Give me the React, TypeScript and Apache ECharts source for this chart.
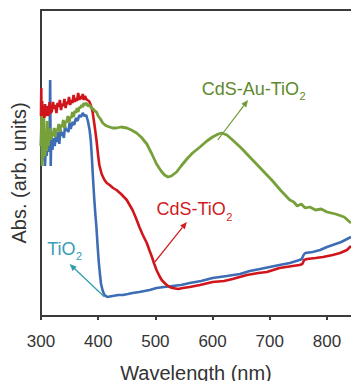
import React, { useEffect, useRef } from "react";
import * as echarts from "echarts";

const FONT = '"Liberation Sans", Arial, Helvetica, sans-serif';

const xTicks = [300, 400, 500, 600, 700, 800];
const xMin = 300;
const xMax = 842;
const yMin = 0;
const yMax = 306;

// [wavelength (nm), absorbance (arb. units)]
const tio2: [number, number][] = [
  [300, 170], [301, 198], [302, 155], [303, 188], [304, 160], [306, 184], [307, 150], [309, 176], [310, 160],
  [312, 180], [313, 164], [315, 176], [316, 236], [317, 150], [318, 182], [320, 166], [322, 178], [324, 170],
  [326, 180], [328, 174], [330, 184], [332, 172], [334, 186], [336, 180], [338, 184], [340, 178], [342, 190],
  [344, 185], [346, 187], [348, 184], [350, 193], [352, 187], [355, 194], [358, 191], [361, 198], [364, 195],
  [367, 201], [370, 199], [373, 203], [376, 200], [379, 201], [382, 195], [385, 186], [387, 176], [389, 158],
  [391, 137], [393, 118], [395, 102], [397, 88], [399, 70], [401, 54], [403, 42], [405, 32], [408, 25],
  [411, 21], [416, 19], [425, 20], [435, 21], [443, 21], [452, 22], [460, 23], [472, 24], [481, 25],
  [490, 26], [502, 28], [515, 29], [530, 30], [545, 31], [560, 33], [580, 35], [600, 38], [625, 40],
  [648, 42], [665, 45], [683, 47], [700, 49], [717, 51], [735, 53], [752, 56], [756, 57], [759, 61],
  [762, 63], [775, 64], [788, 66], [800, 69], [810, 71], [825, 74], [842, 79],
];

const cdsTio2: [number, number][] = [
  [300, 200], [300.5, 228], [301, 185], [302, 215], [303, 192], [304, 210], [306, 198], [307, 212], [309, 200],
  [311, 210], [313, 200], [315, 214], [317, 203], [319, 205], [321, 214], [323, 207], [325, 211], [327, 203],
  [329, 213], [331, 209], [333, 216], [335, 206], [337, 212], [339, 210], [341, 217], [343, 208], [345, 214],
  [347, 212], [349, 219], [351, 211], [353, 216], [355, 213], [357, 221], [359, 214], [361, 218], [363, 215],
  [365, 223], [367, 216], [369, 220], [371, 217], [373, 222], [375, 216], [377, 220], [379, 217], [381, 216],
  [384, 215], [387, 211], [390, 205], [392, 197], [394, 189], [397, 176], [400, 160], [402, 151], [406, 142],
  [411, 136], [415, 133], [420, 131], [426, 128], [432, 126], [440, 122], [450, 116], [455, 111], [460, 106],
  [466, 98], [472, 89], [478, 81], [485, 73], [490, 65], [494, 59], [498, 52], [502, 46], [507, 40],
  [511, 36], [516, 33], [520, 31], [525, 29], [530, 28], [540, 27], [548, 28], [560, 29], [578, 31],
  [600, 34], [620, 35], [635, 37], [660, 41], [680, 43], [695, 44], [717, 48], [740, 50], [752, 51],
  [757, 52], [760, 56], [765, 57], [780, 58], [793, 59], [810, 61], [823, 63], [835, 66], [842, 70],
];

const cdsAuTio2: [number, number][] = [
  [300, 170], [301, 200], [302, 150], [303, 190], [304, 158], [305, 198], [307, 160], [308, 185], [310, 165],
  [311, 195], [313, 170], [315, 188], [317, 176], [319, 184], [321, 180], [323, 188], [325, 179], [327, 187],
  [329, 185], [331, 192], [333, 184], [335, 191], [337, 189], [339, 196], [341, 188], [343, 195], [345, 194],
  [347, 200], [349, 193], [351, 199], [353, 198], [355, 204], [357, 199], [359, 205], [361, 203], [363, 208],
  [365, 204], [367, 209], [369, 208], [371, 211], [373, 209], [375, 213], [377, 211], [379, 213], [382, 210],
  [385, 211], [388, 208], [391, 207], [394, 205], [397, 204], [400, 200], [404, 197], [408, 193], [412, 191],
  [415, 190], [420, 189], [425, 188], [432, 188], [440, 189], [450, 188], [458, 186], [467, 183], [475, 179],
  [485, 172], [493, 163], [502, 152], [510, 145], [516, 141], [522, 139], [528, 140], [537, 144], [545, 150],
  [555, 157], [565, 163], [578, 169], [590, 175], [600, 179], [610, 182], [616, 183], [625, 181], [635, 176],
  [650, 168], [665, 159], [680, 150], [695, 141], [705, 135], [720, 125], [735, 116], [742, 114], [748, 110],
  [755, 112], [762, 108], [770, 109], [780, 106], [790, 107], [800, 104], [815, 102], [830, 99], [842, 93],
];

// Annotation labels: [wavelength at text left, value at text middle]
const labelMain = ["CdS-Au-TiO", "CdS-TiO", "TiO"];
const labelSub = ["2", "2", "2"];
const labelAt: [number, number][] = [[581, 227.5], [502, 107], [311, 67.5]];
const labelColor = ["#5e8a2c", "#d01c22", "#3a9cb6"];

// Arrows: from point on curve to the label, in data coordinates
const arrowFrom: [number, number][] = [[609, 176], [499, 54], [411, 19]];
const arrowTo: [number, number][] = [[662, 216], [555, 94], [350, 52]];
const arrowColor = ["#6f9a35", "#d01c22", "#2e9aaa"];

const AXIS_COLOR = "#3a3a3a";

function measure(text: string, size: number): number {
  const c = document.createElement("canvas").getContext("2d");
  if (!c) return text.length * size * 0.55;
  c.font = `${size}px ${FONT}`;
  return c.measureText(text).width;
}

export default function App() {
  const ref = useRef<HTMLDivElement>(null);
  useEffect(() => {
    if (!ref.current) return;
    document.body.style.margin = "0";
    const chart = echarts.init(ref.current, undefined, { renderer: "svg" });
    const option: any = {
      animation: false,
      grid: { left: 41, right: 0, top: 10, bottom: 65, containLabel: false, outerBoundsMode: "none" },
      xAxis: [
        {
          type: "value",
          min: xMin,
          max: xMax,
          interval: 100,
          position: "bottom",
          axisLine: { show: true, lineStyle: { color: AXIS_COLOR, width: 2 } },
          axisTick: {
            show: true,
            inside: false,
            length: 4,
            customValues: xTicks,
            lineStyle: { color: AXIS_COLOR, width: 2 },
          },
          axisLabel: {
            show: true,
            customValues: xTicks,
            fontSize: 17,
            fontFamily: FONT,
            color: "#333",
            margin: 17,
          },
          splitLine: { show: false },
          name: "Wavelength (nm)",
          nameLocation: "middle",
          nameGap: 47,
          nameTextStyle: { fontSize: 20, fontFamily: FONT, color: "#333" },
        },
        {
          type: "value",
          min: xMin,
          max: xMax,
          position: "top",
          axisLine: { show: true, lineStyle: { color: AXIS_COLOR, width: 2 } },
          axisTick: { show: false },
          axisLabel: { show: false },
          splitLine: { show: false },
        },
      ],
      yAxis: {
        type: "value",
        min: yMin,
        max: yMax,
        axisLine: { show: true, lineStyle: { color: AXIS_COLOR, width: 2 } },
        axisTick: { show: false },
        axisLabel: { show: false },
        splitLine: { show: false },
      },
      series: [
        {
          name: "TiO2",
          type: "line",
          data: tio2,
          showSymbol: false,
          lineStyle: { color: "#3d6db5", width: 2.6 },
          itemStyle: { color: "#3d6db5" },
          z: 2,
        },
        {
          name: "CdS-TiO2",
          type: "line",
          data: cdsTio2,
          showSymbol: false,
          lineStyle: { color: "#d0161c", width: 2.6 },
          itemStyle: { color: "#d0161c" },
          z: 3,
        },
        {
          name: "CdS-Au-TiO2",
          type: "line",
          data: cdsAuTio2,
          showSymbol: false,
          lineStyle: { color: "#77a03a", width: 2.8 },
          itemStyle: { color: "#77a03a" },
          z: 4,
        },
      ],
    };
    chart.setOption(option);

    const toPx = (p: [number, number]) => chart.convertToPixel({ gridIndex: 0 }, p) as number[];
    const graphics: any[] = [
      {
        type: "text",
        x: 19,
        y: 173,
        rotation: Math.PI / 2,
        style: {
          text: "Abs. (arb. units)",
          fontSize: 20,
          fontFamily: FONT,
          fill: "#333",
          textAlign: "center",
          textVerticalAlign: "middle",
        },
      },
    ];
    for (let i = 0; i < labelMain.length; i++) {
      const p = toPx(labelAt[i]);
      const w = measure(labelMain[i], 18);
      graphics.push({
        type: "text",
        x: p[0],
        y: p[1],
        z: 10,
        style: {
          text: labelMain[i],
          fontSize: 18,
          fontFamily: FONT,
          fill: labelColor[i],
          textAlign: "left",
          textVerticalAlign: "middle",
        },
      });
      graphics.push({
        type: "text",
        x: p[0] + w + 0.5,
        y: p[1] + 7.5,
        z: 10,
        style: {
          text: labelSub[i],
          fontSize: 11,
          fontFamily: FONT,
          fill: labelColor[i],
          textAlign: "left",
          textVerticalAlign: "middle",
        },
      });
    }
    for (let i = 0; i < arrowFrom.length; i++) {
      const a = toPx(arrowFrom[i]);
      const b = toPx(arrowTo[i]);
      const ang = Math.atan2(b[1] - a[1], b[0] - a[0]);
      const L = 7;
      const H = 3;
      const bx = b[0] - L * Math.cos(ang);
      const by = b[1] - L * Math.sin(ang);
      graphics.push({
        type: "line",
        z: 10,
        shape: { x1: a[0], y1: a[1], x2: bx, y2: by },
        style: { stroke: arrowColor[i], lineWidth: 1.2 },
      });
      graphics.push({
        type: "polygon",
        z: 10,
        shape: {
          points: [
            [b[0], b[1]],
            [bx - H * Math.sin(ang), by + H * Math.cos(ang)],
            [bx + H * Math.sin(ang), by - H * Math.cos(ang)],
          ],
        },
        style: { fill: arrowColor[i] },
      });
    }
    chart.setOption({ graphic: graphics });

    return () => chart.dispose();
  }, []);
  return <div ref={ref} style={{ width: 351, height: 381 }} />;
}
